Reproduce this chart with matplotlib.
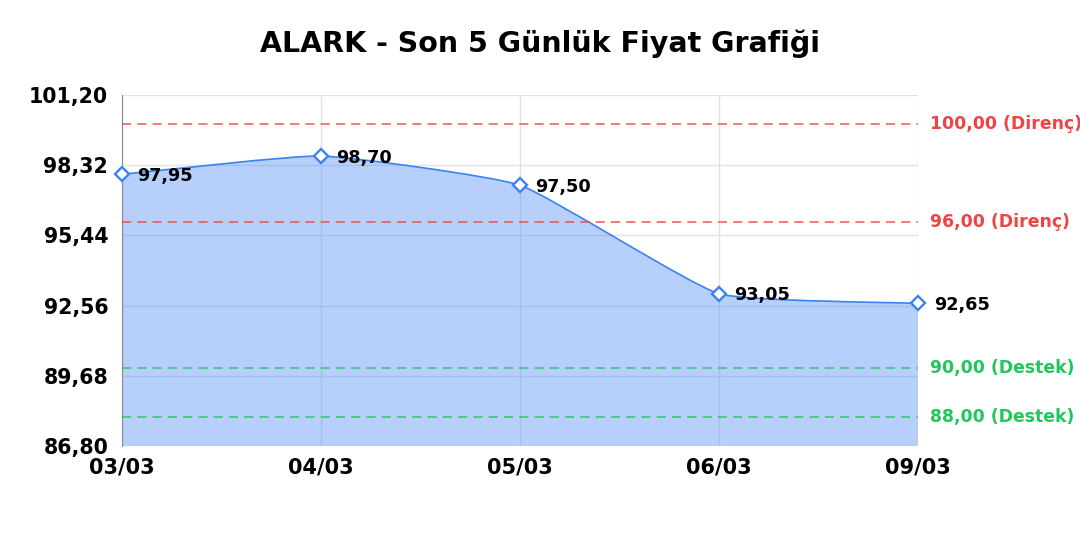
import numpy as np
import matplotlib.pyplot as plt
from matplotlib.path import Path
from matplotlib.patches import PathPatch

plt.rcParams['font.family'] = ['DejaVu Sans']

dates = ['03/03', '04/03', '05/03', '06/03', '09/03']
prices = [97.95, 98.70, 97.50, 93.05, 92.65]
price_labels = ['97,95', '98,70', '97,50', '93,05', '92,65']
resistance = [100.00, 96.00]
support = [90.00, 88.00]
y_ticks = [86.80, 89.68, 92.56, 95.44, 98.32, 101.20]
title = 'ALARK - Son 5 Günlük Fiyat Grafiği'

line_color = '#3b82f6'
red = '#ef4444'
green = '#22c55e'
smooth = 0.14

fig_w, fig_h = 10.8, 5.4
ax_rect = [0.113, 0.174, 0.737, 0.650]


def smooth_path(xs, ys, sx, sy, t, base=None):
    # bezier spline, control points worked out in pixel units (sx, sy = px per unit)
    pts = np.column_stack([np.asarray(xs, float) * sx, np.asarray(ys, float) * sy])
    n = len(pts)
    cp_prev, cp_next = [], []
    for i in range(n):
        prev = pts[max(i - 1, 0)]
        cur = pts[i]
        nxt = pts[min(i + 1, n - 1)]
        d01 = np.hypot(*(cur - prev))
        d12 = np.hypot(*(nxt - cur))
        tot = d01 + d12
        fa = t * d01 / tot if tot else 0
        fb = t * d12 / tot if tot else 0
        cp_prev.append(cur - fa * (nxt - prev))
        cp_next.append(cur + fb * (nxt - prev))
    verts = [pts[0]]
    codes = [Path.MOVETO]
    for i in range(n - 1):
        verts += [cp_next[i], cp_prev[i + 1], pts[i + 1]]
        codes += [Path.CURVE4] * 3
    verts = [(vx / sx, vy / sy) for vx, vy in verts]
    if base is not None:
        verts += [(xs[-1], base), (xs[0], base), (xs[0], ys[0])]
        codes += [Path.LINETO, Path.LINETO, Path.CLOSEPOLY]
    return Path(verts, codes)


fig = plt.figure(figsize=(fig_w, fig_h), dpi=100)
ax = fig.add_axes(ax_rect)

x = np.arange(len(dates))
ymin, ymax = y_ticks[0], y_ticks[-1]
ax.set_xlim(x[0], x[-1])
ax.set_ylim(ymin, ymax)

sx = ax_rect[2] * fig_w * 100 / (x[-1] - x[0])
sy = ax_rect[3] * fig_h * 100 / (ymax - ymin)

ax.add_patch(PathPatch(smooth_path(x, prices, sx, sy, smooth, base=ymin),
                       facecolor=line_color, alpha=0.37, edgecolor='none', zorder=2))
ax.add_patch(PathPatch(smooth_path(x, prices, sx, sy, smooth), facecolor='none',
                       edgecolor=line_color, linewidth=1.2, zorder=3))
ax.plot(x, prices, linestyle='none', marker='D', markersize=7.5,
        markerfacecolor='white', markeredgecolor=line_color, markeredgewidth=1.7,
        zorder=5, clip_on=False)

for xi, yi, lab in zip(x, prices, price_labels):
    dx = 11.5 if xi == x[-1] else 10.8
    ax.annotate(lab, (xi, yi), xytext=(dx, -1.2), textcoords='offset points',
                fontsize=12.7, fontweight='bold', color='black', va='center', ha='left',
                zorder=6, annotation_clip=False)

for lvl in resistance:
    ax.axhline(lvl, color=red, linestyle=(0, (6, 4)), linewidth=1.1, alpha=0.9, zorder=4)
    ax.text(1.015, lvl, f'{lvl:.2f}'.replace('.', ',') + ' (Direnç)',
            transform=ax.get_yaxis_transform(), color=red, fontsize=12.4,
            fontweight='bold', va='center', ha='left', clip_on=False)
for lvl in support:
    ax.axhline(lvl, color=green, linestyle=(0, (6, 4)), linewidth=1.1, alpha=0.9, zorder=4)
    ax.text(1.015, lvl, f'{lvl:.2f}'.replace('.', ',') + ' (Destek)',
            transform=ax.get_yaxis_transform(), color=green, fontsize=12.4,
            fontweight='bold', va='center', ha='left', clip_on=False)

ax.set_xticks(x)
ax.set_xticklabels(dates, fontsize=15, fontweight='bold')
ax.set_yticks(y_ticks)
ax.set_yticklabels([f'{v:.2f}'.replace('.', ',') for v in y_ticks], fontsize=14.8,
                   fontweight='bold')
ax.tick_params(axis='y', length=0, pad=10)
ax.tick_params(axis='x', length=0, pad=8)
ax.grid(True, color='#e3e3e3', linewidth=1, zorder=1)
ax.set_axisbelow(True)
for side in ['top', 'right', 'bottom']:
    ax.spines[side].set_visible(False)
ax.spines['left'].set_color('#888888')

fig.suptitle(title, fontsize=20.5, fontweight='bold', y=0.945)

fig.savefig('out.png', dpi=100)
